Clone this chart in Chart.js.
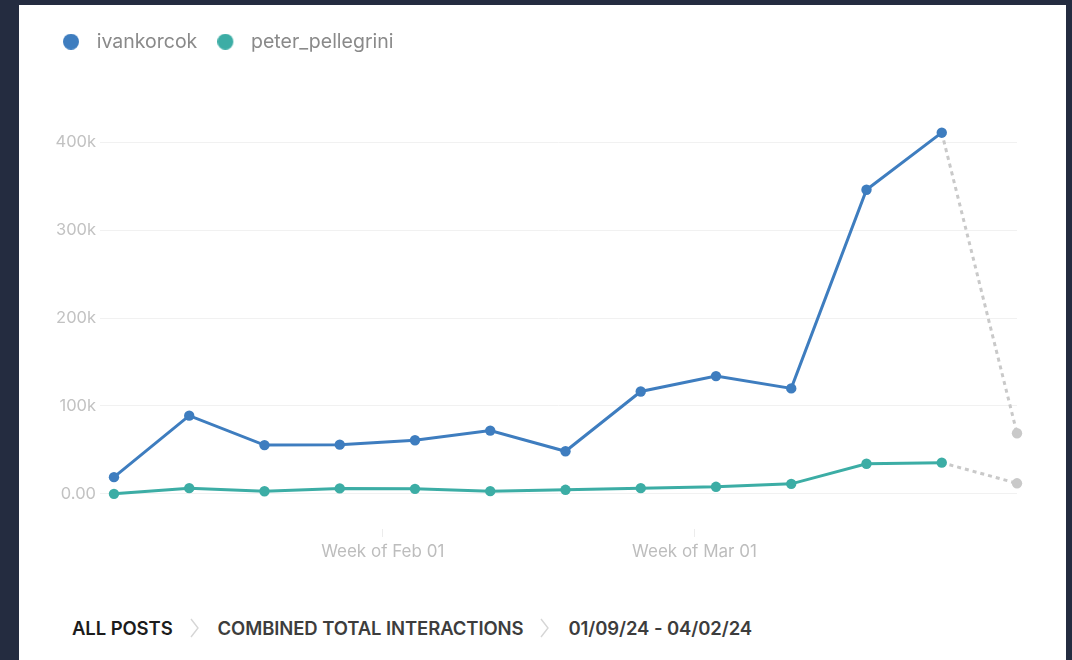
<!DOCTYPE html>
<html>
<head>
<meta charset="utf-8">
<script src="https://cdn.jsdelivr.net/npm/chart.js@4.4.1/dist/chart.umd.min.js"></script>
<style>
  html, body { margin: 0; padding: 0; width: 1072px; height: 660px; overflow: hidden; background: #242c40; font-family: Inter, "Noto Sans", sans-serif; }
  .card { position: absolute; left: 19px; top: 5px; width: 1047px; height: 700px; background: #ffffff; }
  .chart-box { position: absolute; left: 0; top: 0; width: 1047px; height: 570px; }
  .crumbs { position: absolute; left: 53px; top: 610px; height: 26px; display: flex; align-items: center; font-size: 18.5px; font-weight: 600; color: #3d3d3d; letter-spacing: -0.1px; white-space: nowrap; }
  .crumbs .first { color: #1c1c1c; }
  .crumbs svg { margin: 0 19px 0 17px; }
</style>
</head>
<body>
<div class="card">
  <div class="chart-box"><canvas id="chart"></canvas></div>
  <div class="crumbs">
    <span class="first">ALL POSTS</span>
    <svg width="9" height="20" viewBox="0 0 9 20"><polyline points="1,1 8,10 1,19" fill="none" stroke="#d6d6d6" stroke-width="1.4"/></svg>
    <span>COMBINED TOTAL INTERACTIONS</span>
    <svg width="9" height="20" viewBox="0 0 9 20"><polyline points="1,1 8,10 1,19" fill="none" stroke="#d6d6d6" stroke-width="1.4"/></svg>
    <span>01/09/24 - 04/02/24</span>
  </div>
</div>
<script>
// Weekly combined interactions (week start dates)
const weekStarts = ["2024-01-07", "2024-01-14", "2024-01-21", "2024-01-28", "2024-02-04", "2024-02-11",
                    "2024-02-18", "2024-02-25", "2024-03-03", "2024-03-10", "2024-03-17", "2024-03-24", "2024-03-31"];
const ivankorcok = [19000, 89000, 55500, 56000, 61000, 72000, 48500, 116500, 134000, 120000, 346000, 411000, 69000];
const peterPellegrini = [0, 6500, 3000, 6200, 5700, 3100, 4600, 6500, 8000, 11400, 34300, 35500, 12000];
// The last week is still in progress, so it is drawn as a grey dashed projection
const partialWeek = 12;

const xTickDates = ["2024-02-01", "2024-03-01"];
const xTickLabels = ["Week of Feb 01", "Week of Mar 01"];
const yTickValues = [0, 100000, 200000, 300000, 400000];
const yTickLabels = ["0.00", "100k", "200k", "300k", "400k"];

const BLUE = "#3e7dbf";
const TEAL = "#3cada5";
const GREY = "#c9c9c9";
const FONT = "Inter, 'Noto Sans', sans-serif";

const DAY = 86400000;
const origin = Date.parse(weekStarts[0] + "T00:00:00Z");
const dayOf = d => (Date.parse(d + "T00:00:00Z") - origin) / DAY;

function points(values) {
  return weekStarts.map((d, i) => ({ x: dayOf(d), y: values[i] }));
}

function lineDataset(label, values, color) {
  const pick = ctx => (ctx.dataIndex === partialWeek ? GREY : color);
  return {
    label,
    data: points(values),
    borderColor: color,
    backgroundColor: color,
    borderWidth: 3,
    pointRadius: 5.2,
    pointHoverRadius: 6,
    pointBorderWidth: 0,
    pointBackgroundColor: pick,
    pointBorderColor: pick,
    tension: 0,
    clip: false,
    segment: {
      borderColor: ctx => (ctx.p1DataIndex === partialWeek ? GREY : undefined),
      borderDash: ctx => (ctx.p1DataIndex === partialWeek ? [4, 4] : undefined)
    }
  };
}

// Round legend marker with a little space before the text
function legendDot(color) {
  const c = document.createElement("canvas");
  c.width = 24; c.height = 16;
  const g = c.getContext("2d");
  g.fillStyle = color;
  g.beginPath();
  g.arc(8, 8, 8, 0, Math.PI * 2);
  g.fill();
  return c;
}

new Chart(document.getElementById("chart"), {
  type: "line",
  data: {
    datasets: [
      lineDataset("ivankorcok", ivankorcok, BLUE),
      lineDataset("peter_pellegrini", peterPellegrini, TEAL)
    ]
  },
  options: {
    responsive: true,
    maintainAspectRatio: false,
    animation: false,
    layout: { padding: { left: 24, right: 49, top: 7, bottom: 6 } },
    plugins: {
      tooltip: { enabled: false },
      legend: {
        display: true,
        position: "top",
        align: "start",
        labels: {
          usePointStyle: true,
          pointStyleWidth: 24,
          boxHeight: 16,
          padding: 20,
          color: "#8a8a8a",
          font: { family: FONT, size: 19.5 },
          generateLabels(chart) {
            const items = Chart.defaults.plugins.legend.labels.generateLabels(chart);
            items.forEach(it => {
              const ds = chart.data.datasets[it.datasetIndex];
              it.pointStyle = legendDot(ds.borderColor);
            });
            return items;
          }
        }
      }
    },
    scales: {
      x: {
        type: "linear",
        min: -1.3,
        max: dayOf(weekStarts[weekStarts.length - 1]),
        afterBuildTicks(scale) {
          scale.ticks = xTickDates.map(d => ({ value: dayOf(d) }));
        },
        afterFit(scale) { scale.height = 40; },
        ticks: {
          autoSkip: false,
          maxRotation: 0,
          padding: 5,
          color: "#bdbdbd",
          font: { family: FONT, size: 17 },
          callback(value) {
            const i = xTickDates.findIndex(d => dayOf(d) === value);
            return i >= 0 ? xTickLabels[i] : "";
          }
        },
        grid: { drawOnChartArea: false, drawTicks: true, tickLength: 8, color: "#ececec" },
        border: { display: false }
      },
      y: {
        type: "linear",
        min: -40000,
        max: 492000,
        afterBuildTicks(scale) {
          scale.ticks = yTickValues.map(v => ({ value: v }));
        },
        afterFit(scale) { scale.width = 57; },
        ticks: {
          padding: 4,
          color: "#c2c2c2",
          font: { family: FONT, size: 16.5 },
          callback(value) {
            const i = yTickValues.indexOf(value);
            return i >= 0 ? yTickLabels[i] : "";
          }
        },
        grid: { drawTicks: false, color: "#f1f1f1", lineWidth: 1 },
        border: { display: false }
      }
    }
  }
});
</script>
</body>
</html>
